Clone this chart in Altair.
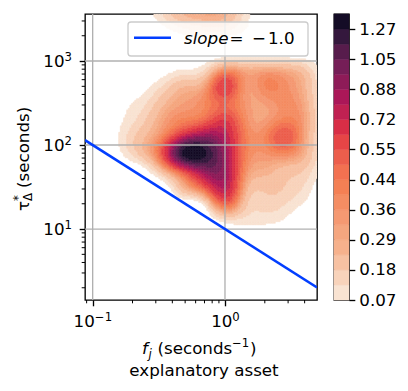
import numpy as np
import pandas as pd
import altair as alt

# ---------------- values ----------------
X_DOMAIN = [0.0875, 4.96]          # f_j (seconds^-1), log axis
Y_DOMAIN = [1.43, 3630.0]          # tau (seconds), log axis

x_major = [0.1, 1.0]
x_major_exp = ["−1", "0"]
y_major = [10.0, 100.0, 1000.0]
y_major_exp = ["1", "2", "3"]
x_minor = [0.09, 0.2, 0.3, 0.4, 0.5, 0.6, 0.7, 0.8, 0.9, 2.0, 3.0, 4.0]
y_minor = [2, 3, 4, 5, 6, 7, 8, 9, 20, 30, 40, 50, 60, 70, 80, 90,
           200, 300, 400, 500, 600, 700, 800, 900, 2000, 3000]

contour_levels = [0.07, 0.125, 0.18, 0.25, 0.29, 0.325, 0.36, 0.40, 0.44, 0.49,
                  0.55, 0.63, 0.72, 0.80, 0.88, 0.96, 1.05, 1.16, 1.27, 1.40]
band_colors = ["#f9e3d2", "#f8d3bb", "#f7c1a2", "#f6b18c", "#f5a67f", "#f59972",
               "#f48d63", "#f48054", "#f27151", "#ec5e4c", "#e64546", "#d82e46",
               "#c02152", "#ab1758", "#8e1b58", "#751e57", "#571c4c", "#34183d",
               "#140c26"]
cbar_labels = ["0.07", "0.18", "0.29", "0.36", "0.44", "0.55", "0.72", "0.88",
               "1.05", "1.27"]

# density on a coarse grid (log10 f columns, log10 tau rows)
col_logf = [-0.75, -0.6, -0.45, -0.3, -0.15, 0.0, 0.15, 0.3, 0.45, 0.6, 0.75]
dens_tau_1_1 = [0, 0, 0, 0, 0, 0.10, 0.10, 0.09, 0.06, 0, 0]
dens_tau_1_3 = [0, 0, 0, 0, 0.12, 0.50, 0.22, 0.15, 0.13, 0.06, 0]
dens_tau_1_5 = [0, 0, 0.03, 0.29, 0.55, 0.80, 0.32, 0.20, 0.18, 0.12, 0]
dens_tau_1_7 = [0, 0.05, 0.30, 0.65, 0.95, 0.90, 0.40, 0.28, 0.22, 0.18, 0.04]
dens_tau_1_9 = [0.09, 0.25, 0.65, 1.35, 1.30, 0.90, 0.45, 0.36, 0.40, 0.28, 0.06]
dens_tau_2_1 = [0.12, 0.25, 0.45, 0.80, 0.95, 0.80, 0.45, 0.40, 0.55, 0.33, 0.07]
dens_tau_2_3 = [0.08, 0.18, 0.33, 0.42, 0.50, 0.63, 0.40, 0.33, 0.42, 0.33, 0.07]
dens_tau_2_5 = [0.05, 0.12, 0.25, 0.33, 0.40, 0.50, 0.36, 0.33, 0.38, 0.30, 0.06]
dens_tau_2_7 = [0, 0.05, 0.15, 0.25, 0.33, 0.63, 0.36, 0.40, 0.38, 0.27, 0.05]
dens_tau_2_9 = [0, 0, 0.03, 0.07, 0.13, 0.36, 0.29, 0.30, 0.28, 0.20, 0.03]
dens_tau_3_1 = [0, 0, 0, 0, 0, 0, 0, 0, 0, 0, 0]
dens_tau_3_3 = [0, 0, 0.02, 0.06, 0.07, 0.07, 0.04, 0, 0, 0, 0]
dens_tau_3_5 = [0, 0.03, 0.12, 0.22, 0.26, 0.24, 0.10, 0, 0, 0, 0]
dens_tau_3_7 = [0, 0.04, 0.14, 0.24, 0.26, 0.24, 0.10, 0, 0, 0, 0]
row_logtau = [1.1, 1.3, 1.5, 1.7, 1.9, 2.1, 2.3, 2.5, 2.7, 2.9, 3.1, 3.3, 3.5, 3.7]
dens_rows = [dens_tau_1_1, dens_tau_1_3, dens_tau_1_5, dens_tau_1_7, dens_tau_1_9,
             dens_tau_2_1, dens_tau_2_3, dens_tau_2_5, dens_tau_2_7, dens_tau_2_9,
             dens_tau_3_1, dens_tau_3_3, dens_tau_3_5, dens_tau_3_7]

line_slope = -1.0
line_anchor = (1.0, 10.0)

# ---------------- smooth density surface through the read values ----------------
cu = np.array([col_logf[0] - 0.15] + col_logf + [col_logf[-1] + 0.15])
rv = np.array([row_logtau[0] - 0.2] + row_logtau + [row_logtau[-1] + 0.2])
tab = np.zeros((len(rv), len(cu)))
for r, row in enumerate(dens_rows):
    tab[r + 1, 1:-1] = row
NV, NU = np.meshgrid(rv, cu, indexing="ij")
nodes_u, nodes_v, vals = NU.ravel(), NV.ravel(), tab.ravel()
SU, SV = 0.105, 0.14


def kern(u1, v1, u2, v2):
    return np.exp(-0.5 * (((u1[:, None] - u2[None, :]) / SU) ** 2 +
                          ((v1[:, None] - v2[None, :]) / SV) ** 2))


K = kern(nodes_u, nodes_v, nodes_u, nodes_v)
wts = np.linalg.solve(K + 0.01 * np.eye(len(vals)), vals)

nu, nv = 145, 179
ue = np.linspace(np.log10(X_DOMAIN[0]), np.log10(X_DOMAIN[1]), nu + 1)
ve = np.linspace(np.log10(Y_DOMAIN[0]), np.log10(Y_DOMAIN[1]), nv + 1)
uc = 0.5 * (ue[:-1] + ue[1:])
vc = 0.5 * (ve[:-1] + ve[1:])
I, J = np.meshgrid(np.arange(nu), np.arange(nv), indexing="ij")
I, J = I.ravel(), J.ravel()
D = kern(uc[I], vc[J], nodes_u, nodes_v) @ wts
m = D >= contour_levels[0]
dens_df = pd.DataFrame({
    "x0": 10 ** ue[I[m]], "x1": 10 ** ue[I[m] + 1],
    "y0": 10 ** ve[J[m]], "y1": 10 ** ve[J[m] + 1],
    "density": D[m],
})

line_df = pd.DataFrame({"f": X_DOMAIN})
line_df["tau"] = line_anchor[1] * (line_df["f"] / line_anchor[0]) ** line_slope

# ---------------- chart ----------------
W, H = 232, 286
FONT = "DejaVu Sans"
FS = 16.7
FS_SUP = 11.7
LW = 1.33

xs = alt.Scale(type="log", domain=X_DOMAIN, nice=False)
ys = alt.Scale(type="log", domain=Y_DOMAIN, nice=False)
cs = alt.Scale(type="threshold", domain=contour_levels[1:-1], range=band_colors)

common_axis = dict(grid=False, domain=False, tickSize=5.8, tickWidth=LW,
                   tickColor="black", labelFont=FONT, labelFontSize=FS,
                   labelColor="black", title=None)
x_axis = alt.Axis(values=x_major, labels=False, **common_axis)
y_axis = alt.Axis(values=y_major, labels=False, **common_axis)

dens = alt.Chart(dens_df).mark_rect(clip=True, strokeWidth=0.5).encode(
    x=alt.X("x0:Q", scale=xs, axis=x_axis), x2="x1:Q",
    y=alt.Y("y0:Q", scale=ys, axis=y_axis), y2="y1:Q",
    color=alt.Color("density:Q", scale=cs, legend=None),
    stroke=alt.Stroke("density:Q", scale=cs, legend=None),
)

gx = alt.Chart(pd.DataFrame({"v": x_major})).mark_rule(color="#b0b0b0", strokeWidth=LW).encode(
    x=alt.X("v:Q", scale=xs, title=None))
gy = alt.Chart(pd.DataFrame({"v": y_major})).mark_rule(color="#b0b0b0", strokeWidth=LW).encode(
    y=alt.Y("v:Q", scale=ys, title=None))

blue = alt.Chart(line_df).mark_line(color="#023eff", strokeWidth=2.5, clip=True).encode(
    x=alt.X("f:Q", scale=xs, title=None), y=alt.Y("tau:Q", scale=ys, title=None))

mx = alt.Chart(pd.DataFrame({"v": x_minor})).mark_rule(color="black", strokeWidth=1).encode(
    x=alt.X("v:Q", scale=xs, title=None), y=alt.value(H), y2=alt.value(H + 3.3))
my = alt.Chart(pd.DataFrame({"v": y_minor})).mark_rule(color="black", strokeWidth=1).encode(
    y=alt.Y("v:Q", scale=ys, title=None), x=alt.value(0), x2=alt.value(-3.3))

# tick labels in the "10^k" style
tick_layers = []
for val, ex in zip(x_major, x_major_exp):
    d = pd.DataFrame({"v": [val]})
    exp_w = 0.55 * FS_SUP * len(ex) + (4 if ex.startswith("−") else 0)
    shift = (21.2 + exp_w) / 2 - exp_w
    tick_layers.append(alt.Chart(d).mark_text(text="10", font=FONT, fontSize=FS, align="right",
                                              baseline="alphabetic", dx=shift, color="black").encode(
        x=alt.X("v:Q", scale=xs, title=None), y=alt.value(H + 27)))
    tick_layers.append(alt.Chart(d).mark_text(text=ex, font=FONT, fontSize=FS_SUP, align="left",
                                              baseline="alphabetic", dx=shift, color="black").encode(
        x=alt.X("v:Q", scale=xs, title=None), y=alt.value(H + 20.5)))
for val, ex in zip(y_major, y_major_exp):
    d = pd.DataFrame({"v": [val]})
    tick_layers.append(alt.Chart(d).mark_text(text="10", font=FONT, fontSize=FS, align="right",
                                              baseline="alphabetic", dy=6, color="black").encode(
        y=alt.Y("v:Q", scale=ys, title=None), x=alt.value(-20.5)))
    tick_layers.append(alt.Chart(d).mark_text(text=ex, font=FONT, fontSize=FS_SUP, align="left",
                                              baseline="alphabetic", dy=-0.5, color="black").encode(
        y=alt.Y("v:Q", scale=ys, title=None), x=alt.value(-20.5)))

one = pd.DataFrame({"k": [0]})


def txt(s, x, y, size=FS, style="normal", angle=0, align="left", baseline="alphabetic"):
    return alt.Chart(one).mark_text(text=s, font=FONT, fontSize=size, fontStyle=style,
                                    angle=angle, align=align, baseline=baseline,
                                    color="black").encode(x=alt.value(x), y=alt.value(y))


leg_box = alt.Chart(one).mark_rect(fill="white", fillOpacity=0.8, stroke="#cccccc",
                                   strokeWidth=LW, cornerRadius=3).encode(
    x=alt.value(43), x2=alt.value(223), y=alt.value(8), y2=alt.value(42))
leg_line = alt.Chart(one).mark_rule(color="#023eff", strokeWidth=2.5).encode(
    x=alt.value(49), x2=alt.value(86), y=alt.value(23.7))

texts = [
    txt("slope", 99, 29.7, style="italic"),
    txt("=", 144.5, 29.7),
    txt("−", 167, 29.7),
    txt("1.0", 183, 29.7),
    # x title
    txt("f", 57, 340, style="italic"),
    txt("j", 63.5, 344, size=FS_SUP, style="italic"),
    txt("(seconds", 72.5, 340),
    txt("−1", 147, 333, size=FS_SUP),
    txt(")", 165, 340),
    txt("explanatory asset", 119, 362, align="center"),
    # y title (rotated)
    txt("τ", -56, 197, angle=270),
    txt("*", -63, 187, size=FS_SUP, angle=270),
    txt("Δ", -53, 187, size=FS_SUP, angle=270),
    txt("(seconds)", -56, 174, angle=270),
]

main = alt.layer(dens, gx, gy, blue, mx, my, *tick_layers, leg_box, leg_line, *texts).properties(
    width=W, height=H)

cb_df = pd.DataFrame({
    "band": list(range(19)),
    "band_top": list(range(1, 20)),
    "mid": [(contour_levels[i] + contour_levels[i + 1]) / 2 for i in range(19)],
})
label_arr = "[" + ",".join("'" + s + "'" for s in cbar_labels) + "]"
cbar = alt.Chart(cb_df).mark_rect(strokeWidth=0.5).encode(
    x=alt.value(0), x2=alt.value(15),
    y=alt.Y("band:Q", scale=alt.Scale(domain=[0, 19], nice=False, zero=False),
            axis=alt.Axis(orient="right", values=list(range(0, 19, 2)),
                          labelExpr=label_arr + "[round(datum.value / 2)]",
                          labelPadding=4, labelBaseline="middle", **common_axis)),
    y2="band_top:Q",
    color=alt.Color("mid:Q", scale=cs, legend=None),
    stroke=alt.Stroke("mid:Q", scale=cs, legend=None),
).properties(width=15, height=H)

chart = alt.hconcat(main, cbar, spacing=14).properties(
    padding={"left": 4, "top": 4, "right": 0, "bottom": 0}
).configure_view(stroke="black", strokeWidth=LW)

chart.save("out.html", embed_options={"renderer": "svg", "actions": False})
